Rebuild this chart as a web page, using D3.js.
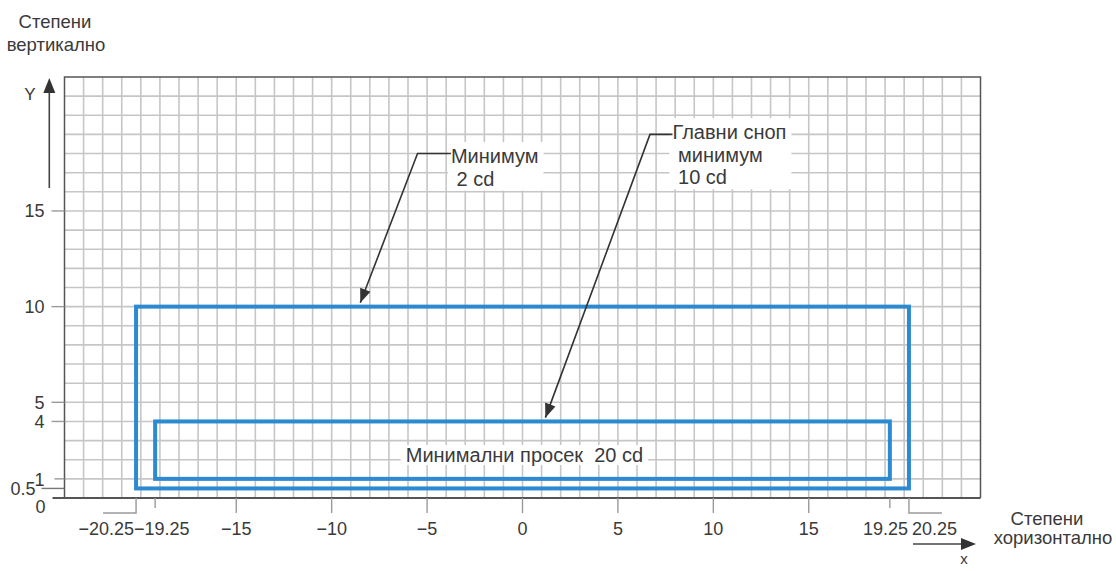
<!DOCTYPE html>
<html>
<head>
<meta charset="utf-8">
<script src="https://cdn.jsdelivr.net/npm/d3@7"></script>
<style>
  body { margin: 0; background: #fff; }
  text { font-family: 'Liberation Sans', Arial, sans-serif; fill: #3a3a3a; }
</style>
</head>
<body>
<div id="chart"></div>
<script>
// Chart values
const xDomain = [-24, 24];
const yDomain = [0, 22];
const xTicks = [-20.25, -19.25, -15, -10, -5, 0, 5, 10, 15, 19.25, 20.25];
const yTicks = [0, 0.5, 1, 4, 5, 10, 15];
// zones: [xMin, xMax, yMin, yMax]
const outerZone = [-20.25, 20.25, 0.5, 10];
const innerZone = [-19.25, 19.25, 1, 4];
// annotations: target point, elbow point, label anchor, lines
const annTargets = [[-8.5, 10.2], [1.2, 4.2]];
const annElbows = [[-5.5, 18], [6.68, 19]];
const annLabelAt = [[-3.75, 17.5], [7.86, 18.75]];
const annLines = [['Минимум', ' 2 cd'], ['Главни сноп', ' минимум', ' 10 cd']];
const zoneLabel = 'Минимални просек  20 cd';

const width = 1116;
const height = 571;

const svg = d3
  .select('#chart')
  .append('svg')
  .attr('width', width)
  .attr('height', height);

// Scales
const x = d3.scaleLinear().domain(xDomain).range([64.5, 980.5]);
const y = d3.scaleLinear().domain(yDomain).range([498, 77]);

const gridColor = '#c6c6c6';
const axisColor = '#555';
const blue = '#2b8ad0';

// Grid lines, one per degree
svg
  .append('g')
  .selectAll('line')
  .data(d3.range(xDomain[0] + 1, xDomain[1]))
  .enter()
  .append('line')
  .attr('x1', (d) => x(d))
  .attr('x2', (d) => x(d))
  .attr('y1', y(yDomain[1]))
  .attr('y2', y(0))
  .attr('stroke', gridColor)
  .attr('stroke-width', 1.6);

svg
  .append('g')
  .selectAll('line')
  .data(d3.range(1, yDomain[1]))
  .enter()
  .append('line')
  .attr('x1', x(xDomain[0]))
  .attr('x2', x(xDomain[1]))
  .attr('y1', (d) => y(d))
  .attr('y2', (d) => y(d))
  .attr('stroke', gridColor)
  .attr('stroke-width', 1.6);

// Frame
svg
  .append('path')
  .attr(
    'd',
    `M${x(xDomain[0])},${y(0)}V${y(yDomain[1])}H${x(xDomain[1])}V${y(0)}`,
  )
  .attr('fill', 'none')
  .attr('stroke', axisColor)
  .attr('stroke-width', 1.5);

// x axis line runs a bit past the frame to the left
svg
  .append('line')
  .attr('x1', x(xDomain[0]) - 12)
  .attr('x2', x(xDomain[1]))
  .attr('y1', y(0))
  .attr('y2', y(0))
  .attr('stroke', axisColor)
  .attr('stroke-width', 2);

// Zones
[outerZone, innerZone].forEach((z) => {
  svg
    .append('rect')
    .attr('x', x(z[0]))
    .attr('y', y(z[3]))
    .attr('width', x(z[1]) - x(z[0]))
    .attr('height', y(z[2]) - y(z[3]))
    .attr('fill', 'none')
    .attr('stroke', blue)
    .attr('stroke-width', 4);
});

// Label inside the inner zone
const zl = svg
  .append('text')
  .attr('x', x(0.1))
  .attr('y', y(1.88))
  .attr('text-anchor', 'middle')
  .style('font-size', '20px')
  .style('white-space', 'pre')
  .text(zoneLabel);
const zb = zl.node().getBBox();
svg
  .insert('rect', 'text')
  .attr('x', zb.x - 5)
  .attr('y', zb.y + 1)
  .attr('width', zb.width + 10)
  .attr('height', zb.height - 2)
  .attr('fill', '#fff');

// Small helper for filled arrow heads
function arrowHead(tip, from, len, half) {
  const dx = tip[0] - from[0];
  const dy = tip[1] - from[1];
  const l = Math.sqrt(dx * dx + dy * dy);
  const ux = dx / l;
  const uy = dy / l;
  const bx = tip[0] - ux * len;
  const by = tip[1] - uy * len;
  return [
    tip,
    [bx - uy * half, by + ux * half],
    [bx + uy * half, by - ux * half],
  ];
}

// Annotations
annLines.forEach((lines, i) => {
  const tip = [x(annTargets[i][0]), y(annTargets[i][1])];
  const elbow = [x(annElbows[i][0]), y(annElbows[i][1])];
  const lx = x(annLabelAt[i][0]);
  const ly = y(annLabelAt[i][1]);

  const g = svg.append('g');
  const t = g
    .append('text')
    .attr('x', lx)
    .attr('y', ly)
    .style('font-size', '20px')
    .style('white-space', 'pre');
  t.selectAll('tspan')
    .data(lines)
    .enter()
    .append('tspan')
    .attr('x', lx)
    .attr('dy', (d, j) => (j === 0 ? 0 : 22.5))
    .text((d) => d);
  const b = t.node().getBBox();
  g.insert('rect', 'text')
    .attr('x', b.x - 3)
    .attr('y', b.y - 3)
    .attr('width', b.width + 8)
    .attr('height', b.height + 4)
    .attr('fill', '#fff');

  svg
    .append('polyline')
    .attr(
      'points',
      [[lx, elbow[1]], elbow, tip].map((p) => p.join(',')).join(' '),
    )
    .attr('fill', 'none')
    .attr('stroke', '#333')
    .attr('stroke-width', 1.6);
  svg
    .append('polygon')
    .attr('points', arrowHead(tip, elbow, 14, 5.5).map((p) => p.join(',')).join(' '))
    .attr('fill', '#333');
});

// x ticks and labels
xTicks.forEach((v) => {
  const px = x(v);
  const edge = Math.abs(v) === 20.25;
  const inner = Math.abs(v) === 19.25;
  const len = inner ? 10 : 15;
  if (edge) {
    const side = v < 0 ? -33 : 33;
    svg
      .append('path')
      .attr('d', `M${px},${y(0)}V${y(0) + len}H${px + side}`)
      .attr('fill', 'none')
      .attr('stroke', '#9a9a9a')
      .attr('stroke-width', 1.4);
  } else if (v !== 0 || true) {
    svg
      .append('line')
      .attr('x1', px)
      .attr('x2', px)
      .attr('y1', y(0))
      .attr('y2', y(0) + len)
      .attr('stroke', '#9a9a9a')
      .attr('stroke-width', 1.4);
  }
  let anchor = 'middle';
  let lx = px;
  if (v === -20.25) { anchor = 'end'; lx = px - 2; }
  if (v === -19.25) { anchor = 'start'; lx = x(-20.25) - 2; }
  if (v === 19.25) { anchor = 'end'; lx = x(20.25) - 1; }
  if (v === 20.25) { anchor = 'start'; lx = px + 3; }
  svg
    .append('text')
    .attr('x', lx)
    .attr('y', y(0) + 37)
    .attr('text-anchor', anchor)
    .style('font-size', '18px')
    .text(v < 0 ? '\u2212' + Math.abs(v) : String(v));
});

// y ticks and labels
yTicks.forEach((v) => {
  const py = y(v);
  const x0 = x(xDomain[0]);
  if (v === 0) {
    svg
      .append('text')
      .attr('x', x0 - 24)
      .attr('y', py + 15)
      .attr('text-anchor', 'middle')
      .style('font-size', '18px')
      .text('0');
    return;
  }
  if (v === 0.5) {
    svg
      .append('line')
      .attr('x1', x0 - 23)
      .attr('x2', x0)
      .attr('y1', py)
      .attr('y2', py)
      .attr('stroke', '#777')
      .attr('stroke-width', 1.4);
    svg
      .append('text')
      .attr('x', x0 - 29)
      .attr('y', py + 7)
      .attr('text-anchor', 'end')
      .style('font-size', '18px')
      .text('0.5');
    return;
  }
  svg
    .append('line')
    .attr('x1', x0 - (v === 1 ? 10 : 13))
    .attr('x2', x0)
    .attr('y1', py)
    .attr('y2', py)
    .attr('stroke', '#9a9a9a')
    .attr('stroke-width', 1.4);
  svg
    .append('text')
    .attr('x', x0 - 20)
    .attr('y', v === 1 ? py + 7 : py)
    .attr('dy', v === 1 ? 0 : '0.35em')
    .attr('text-anchor', 'end')
    .style('font-size', '18px')
    .text(v);
});

// Vertical axis arrow and title
const ax = 49.3;
svg
  .append('line')
  .attr('x1', ax)
  .attr('x2', ax)
  .attr('y1', 188)
  .attr('y2', 90)
  .attr('stroke', '#444')
  .attr('stroke-width', 1.6);
svg
  .append('polygon')
  .attr('points', arrowHead([ax, 78], [ax, 188], 15, 6).map((p) => p.join(',')).join(' '))
  .attr('fill', '#333');
svg
  .append('text')
  .attr('x', 30)
  .attr('y', 100)
  .attr('text-anchor', 'middle')
  .style('font-size', '17px')
  .text('Y');
svg
  .append('text')
  .attr('x', 55)
  .attr('y', 28)
  .attr('text-anchor', 'middle')
  .style('font-size', '18.5px')
  .text('Степени');
svg
  .append('text')
  .attr('x', 56)
  .attr('y', 51)
  .attr('text-anchor', 'middle')
  .style('font-size', '18.5px')
  .text('вертикално');

// Horizontal axis arrow and title
svg
  .append('line')
  .attr('x1', 913)
  .attr('x2', 964)
  .attr('y1', 544)
  .attr('y2', 544)
  .attr('stroke', '#444')
  .attr('stroke-width', 1.6);
svg
  .append('polygon')
  .attr('points', arrowHead([976, 544], [913, 544], 15, 6).map((p) => p.join(',')).join(' '))
  .attr('fill', '#333');
svg
  .append('text')
  .attr('x', 964)
  .attr('y', 564)
  .attr('text-anchor', 'middle')
  .style('font-size', '15px')
  .text('x');
svg
  .append('text')
  .attr('x', 1047)
  .attr('y', 525)
  .attr('text-anchor', 'middle')
  .style('font-size', '18.5px')
  .text('Степени');
svg
  .append('text')
  .attr('x', 1053)
  .attr('y', 544)
  .attr('text-anchor', 'middle')
  .style('font-size', '18.5px')
  .text('хоризонтално');
</script>
</body>
</html>
